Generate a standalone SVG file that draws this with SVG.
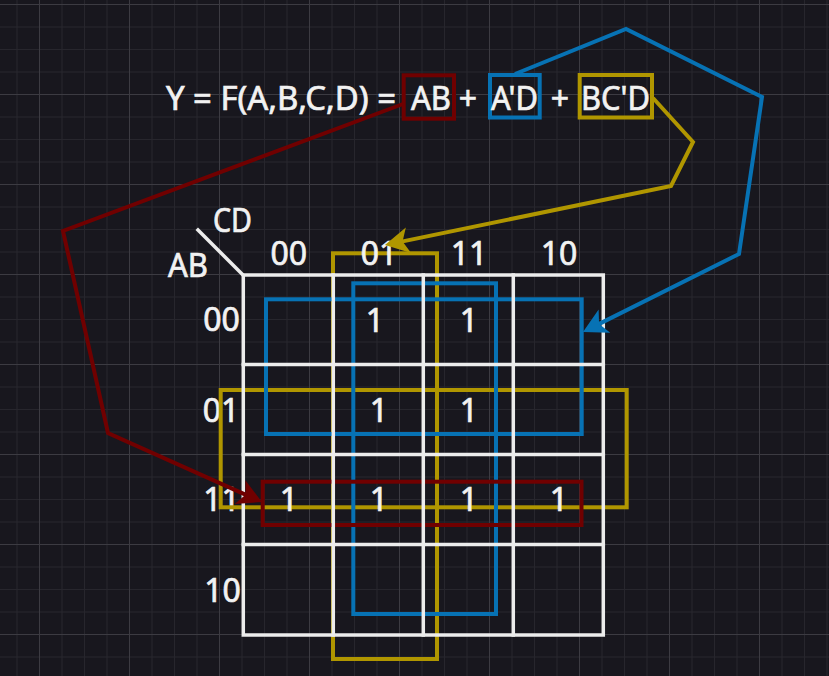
<svg xmlns="http://www.w3.org/2000/svg" width="829" height="676" viewBox="0 0 829 676">
<style>
.t{font-family:"Noto Sans","DejaVu Sans",sans-serif;fill:#f2f2f2;font-size:32px;stroke:#f2f2f2;stroke-width:0.7}
.m{text-anchor:middle}
.grid{fill:none;stroke:#ececec;stroke-width:3.5;stroke-linecap:square}
.red{fill:none;stroke:#700000;stroke-width:4}
.blue{fill:none;stroke:#0772b4;stroke-width:4}
.yel{fill:none;stroke:#b09600;stroke-width:4}
.con{fill:none;stroke-width:4;stroke-linejoin:miter}
</style>
<defs>
<pattern id="bg" patternUnits="userSpaceOnUse" x="39" y="4" width="90" height="90">
<rect width="90" height="90" fill="#18171e"/>
<g fill="#27262d">
<rect x="22.5" y="0" width="1" height="90"/>
<rect x="45" y="0" width="1" height="90"/>
<rect x="67.5" y="0" width="1" height="90"/>
<rect x="0" y="22.5" width="90" height="1"/>
<rect x="0" y="45" width="90" height="1"/>
<rect x="0" y="67.5" width="90" height="1"/>
</g>
<g fill="#3c3b42">
<rect x="0" y="0" width="1" height="90"/>
<rect x="0" y="0" width="90" height="1"/>
</g>
</pattern>
<marker id="arR" viewBox="-14 -15 28 30" refX="0" refY="0" markerWidth="28" markerHeight="30" markerUnits="userSpaceOnUse" orient="auto"><path d="M12,0 L-12,-13 L-6,0 L-12,13 Z" fill="#700000"/></marker>
<marker id="arB" viewBox="-14 -15 28 30" refX="0" refY="0" markerWidth="28" markerHeight="30" markerUnits="userSpaceOnUse" orient="auto"><path d="M12,0 L-12,-13 L-6,0 L-12,13 Z" fill="#0772b4"/></marker>
<marker id="arY" viewBox="-14 -15 28 30" refX="0" refY="0" markerWidth="28" markerHeight="30" markerUnits="userSpaceOnUse" orient="auto"><path d="M12,0 L-12,-13 L-6,0 L-12,13 Z" fill="#b09600"/></marker>
</defs>
<rect width="829" height="676" fill="url(#bg)"/>

<g id="title">
<text class="t" x="166" y="110" textLength="230" lengthAdjust="spacingAndGlyphs">Y = F(A,B,C,D) =</text>
<text class="t m" x="468" y="110">+</text>
<text class="t m" x="560" y="110">+</text>
</g>
<g id="term-AB">
<rect class="red" x="403.7" y="75.3" width="50.3" height="43.4"/>
<text class="t" x="411" y="110" textLength="40" lengthAdjust="spacingAndGlyphs">AB</text>
</g>
<g id="term-AprimeD">
<rect class="blue" x="490" y="75" width="49.7" height="42.5"/>
<text class="t" x="491" y="110" textLength="47" lengthAdjust="spacingAndGlyphs">A'D</text>
</g>
<g id="term-BCprimeD">
<rect class="yel" x="579.7" y="75" width="72.3" height="42.5"/>
<text class="t" x="581" y="110" textLength="69" lengthAdjust="spacingAndGlyphs">BC'D</text>
</g>

<g id="row-labels">
<text class="t m" x="221.5" y="331">00</text>
<text class="t m" x="221" y="422">01</text>
<text class="t m" x="221.5" y="511">11</text>
<text class="t m" x="222.5" y="602">10</text>
</g>

<g id="group-BCprimeD">
<rect class="yel" x="333" y="253.3" width="104" height="405.7"/>
<rect class="yel" x="220.7" y="390" width="406" height="117.3"/>
</g>
<g id="group-AprimeD">
<rect class="blue" x="266" y="299.3" width="315.7" height="134.7"/>
<rect class="blue" x="353.3" y="283.3" width="142.7" height="330.7"/>
</g>
<g id="group-AB">
<rect class="red" x="262.7" y="481.7" width="318.8" height="43.3"/>
</g>

<g id="kmap">
<line class="grid" x1="198" y1="230" x2="243" y2="275"/>
<text class="t" x="213" y="232" font-size="31" textLength="39" lengthAdjust="spacingAndGlyphs">CD</text>
<text class="t" x="168" y="277" font-size="31" textLength="40" lengthAdjust="spacingAndGlyphs">AB</text>
<text class="t m" x="288.7" y="265">00</text>
<text class="t m" x="379" y="265">01</text>
<text class="t m" x="469" y="265">11</text>
<text class="t m" x="559" y="265">10</text>
<rect class="grid" x="243.3" y="275" width="360" height="360"/>
<path class="grid" d="M333.3,275V635M423.3,275V635M513.3,275V635M243.3,364.5H603.3M243.3,454.5H603.3M243.3,544.5H603.3"/>
</g>

<g id="cells">
<text class="t m" x="375" y="332">1</text>
<text class="t m" x="469" y="332">1</text>
<text class="t m" x="379" y="422">1</text>
<text class="t m" x="469" y="422">1</text>
<text class="t m" x="289" y="511">1</text>
<text class="t m" x="379" y="511">1</text>
<text class="t m" x="469" y="511">1</text>
<text class="t m" x="559" y="511">1</text>
</g>

<g id="connectors">
<path class="con" stroke="#700000" d="M403,104 L63,231 L108,433 L251,497.1" marker-end="url(#arR)"/>
<path class="con" stroke="#0772b4" d="M515,74 L626,29 L762,97 L739,254 L593.7,326.6" marker-end="url(#arB)"/>
<path class="con" stroke="#b09600" d="M653,98 L693,142 L671,186 L396.7,242.6" marker-end="url(#arY)"/>
</g>
</svg>
